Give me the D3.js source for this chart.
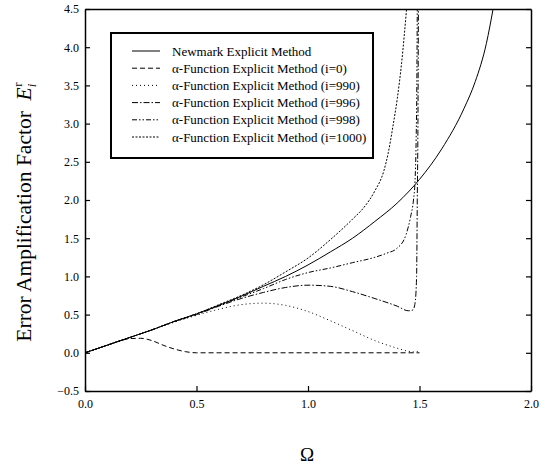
<!DOCTYPE html>
<html><head><meta charset="utf-8">
<script src="https://cdn.jsdelivr.net/npm/d3@7"></script>
<style>body{margin:0;background:#fff}svg{display:block}text{font-family:"Liberation Serif","Times New Roman",serif}</style>
</head><body><svg id="c" width="548" height="468"></svg>
<script>
const xTicks = [0.0, 0.5, 1.0, 1.5, 2.0];
const yTicks = [-0.5, 0.0, 0.5, 1.0, 1.5, 2.0, 2.5, 3.0, 3.5, 4.0, 4.5];
const seriesNames = ["Newmark Explicit Method","α-Function Explicit Method (i=0)","α-Function Explicit Method (i=990)","α-Function Explicit Method (i=996)","α-Function Explicit Method (i=998)","α-Function Explicit Method (i=1000)"];
const newmark = [[0,0],[0.1,0.1],[0.2,0.2],[0.3,0.3],[0.4,0.41],[0.5,0.51],[0.6,0.62],[0.7,0.74],[0.8,0.87],[0.9,1.0],[1.0,1.15],[1.1,1.32],[1.2,1.5],[1.3,1.72],[1.4,1.96],[1.5,2.27],[1.6,2.67],[1.7,3.2],[1.75,3.55],[1.8,4.05],[1.83,4.5]];
const i0 = [[0,0],[0.05,0.05],[0.1,0.1],[0.15,0.15],[0.2,0.185],[0.25,0.19],[0.3,0.16],[0.35,0.1],[0.4,0.05],[0.45,0.015],[0.5,0],[0.6,0],[0.8,0],[1.0,0],[1.2,0],[1.4,0],[1.5,0]];
const i990 = [[0,0],[0.1,0.1],[0.2,0.2],[0.3,0.3],[0.4,0.4],[0.5,0.49],[0.6,0.57],[0.7,0.63],[0.8,0.65],[0.9,0.62],[1.0,0.54],[1.1,0.42],[1.2,0.29],[1.3,0.16],[1.4,0.06],[1.45,0.02],[1.48,0.01],[1.5,0.03]];
const i996 = [[0,0],[0.1,0.1],[0.2,0.2],[0.3,0.3],[0.4,0.41],[0.5,0.5],[0.6,0.61],[0.7,0.71],[0.8,0.79],[0.9,0.855],[1.0,0.885],[1.1,0.87],[1.2,0.8],[1.3,0.71],[1.4,0.61],[1.45,0.55],[1.47,0.56],[1.48,0.65],[1.487,1.0],[1.49,2.0],[1.493,3.0],[1.495,4.5]];
const i998 = [[0,0],[0.1,0.1],[0.2,0.2],[0.3,0.3],[0.4,0.41],[0.5,0.51],[0.6,0.62],[0.7,0.73],[0.8,0.84],[0.9,0.96],[1.0,1.05],[1.1,1.11],[1.2,1.18],[1.3,1.25],[1.35,1.3],[1.4,1.37],[1.44,1.55],[1.46,1.78],[1.473,2.0],[1.48,2.25],[1.485,2.8],[1.488,3.5],[1.49,4.5]];
const i1000 = [[0,0],[0.1,0.1],[0.2,0.2],[0.3,0.3],[0.4,0.41],[0.5,0.51],[0.6,0.63],[0.7,0.75],[0.8,0.89],[0.9,1.06],[1.0,1.24],[1.1,1.48],[1.2,1.75],[1.25,1.9],[1.3,2.12],[1.34,2.38],[1.36,2.62],[1.38,2.95],[1.4,3.32],[1.42,3.8],[1.442,4.5]];
const allSeries = [newmark, i0, i990, i996, i998, i1000];
const dashes = [null, "5,3", "1,3", "6,2,1.5,2", "5,2,1.5,2,1.5,2", "2,1.5"];

const svg = d3.select("#c");
const L = 85, R = 531, T = 9, B = 391;
const x = d3.scaleLinear().domain([0, 2]).range([L, R]);
const y = d3.scaleLinear().domain([-0.5, 4.5]).range([B, T]);

// curves
svg.append("clipPath").attr("id","clp").append("rect").attr("x",L).attr("y",T).attr("width",R-L).attr("height",B-T);
const line = d3.line().x(d=>x(d[0])).y(d=>y(d[1])).curve(d3.curveMonotoneX);
const g = svg.append("g").attr("clip-path","url(#clp)");
allSeries.forEach((s,i)=>{
  g.append("path").attr("d", line(s)).attr("fill","none").attr("stroke","#000")
   .attr("stroke-width", 1).attr("stroke-dasharray", dashes[i]);
});

// axes
const fs = "12px";
const ax = svg.append("g").attr("transform",`translate(0,${B})`).call(d3.axisBottom(x).tickValues(xTicks).tickFormat(d3.format(".1f")).tickSizeInner(-5).tickSizeOuter(0).tickPadding(8));
const ay = svg.append("g").attr("transform",`translate(${L},0)`).call(d3.axisLeft(y).tickValues(yTicks).tickFormat(d3.format(".1f")).tickSizeInner(-5).tickSizeOuter(0).tickPadding(6));
const ar = svg.append("g").attr("transform",`translate(${R},0)`).call(d3.axisRight(y).tickValues(yTicks).tickFormat("").tickSizeInner(-5).tickSizeOuter(0));
const at = svg.append("g").attr("transform",`translate(0,${T})`).call(d3.axisTop(x).tickValues([]).tickSizeOuter(0));
[ax,ay,ar,at].forEach(a=>{
  a.attr("font-family",null);
  a.select(".domain").attr("stroke","#000").attr("stroke-width",1.5);
  a.selectAll(".tick line").attr("stroke","#000").attr("stroke-width",1.2);
  a.selectAll("text").attr("font-size",fs).attr("fill","#000");
});
ax.selectAll(".tick text").attr("dy","0.71em");

// legend
const lg = svg.append("g");
lg.append("rect").attr("x",111).attr("y",33).attr("width",262).attr("height",125).attr("fill","#fff").attr("stroke","#000").attr("stroke-width",2);
seriesNames.forEach((n,i)=>{
  const yy = 51 + i*17.2;
  lg.append("line").attr("x1",132).attr("x2",160).attr("y1",yy).attr("y2",yy).attr("stroke","#000").attr("stroke-width",1).attr("stroke-dasharray",dashes[i]);
  lg.append("text").attr("x",172).attr("y",yy+4.5).attr("font-size","13px").text(n);
});

// axis titles
const yl = svg.append("text").attr("transform","translate(31,212) rotate(-90)").attr("text-anchor","middle").attr("font-size","21.5px");
yl.append("tspan").text("Error Amplification Factor\u00a0\u00a0");
yl.append("tspan").attr("font-style","italic").text("E");
yl.append("tspan").attr("font-style","italic").attr("font-size","13px").attr("dy","5").text("i");
yl.append("tspan").attr("font-size","13px").attr("dy","-14").attr("dx","-3").text("r");
svg.append("text").attr("x",307).attr("y",461).attr("text-anchor","middle").attr("font-size","19px").text("Ω");
</script></body></html>
